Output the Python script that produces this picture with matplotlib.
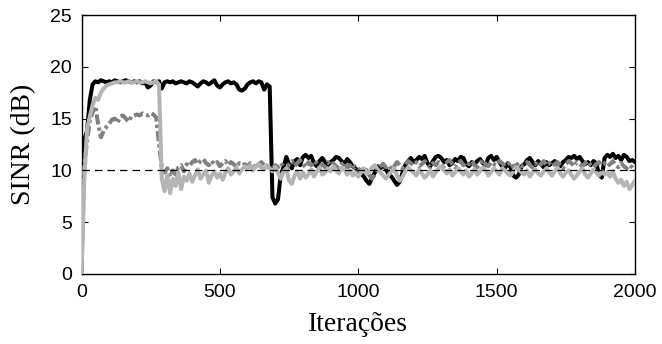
import numpy as np
import matplotlib
matplotlib.use("Agg")
import matplotlib.pyplot as plt

# iteration grid (every 10 iterations)
iteracoes = np.arange(0, 2001, 10)

# SINR (dB)
sinr_preto = [
    0.5, 13.0, 13.8, 16.8, 18.3, 18.6, 18.5, 18.7, 18.6, 18.5,
    18.6, 18.5, 18.7, 18.6, 18.5, 18.6, 18.7, 18.6, 18.5, 18.6,
    18.5, 18.6, 18.4, 18.5, 18.0, 18.2, 18.6, 18.5, 18.6, 17.9,
    18.5, 18.6, 18.5, 18.6, 18.4, 18.5, 18.6, 18.5, 18.4, 18.6,
    18.5, 18.3, 18.1, 18.4, 18.6, 18.5, 18.3, 18.5, 18.7, 18.2,
    18.0, 18.3, 18.5, 18.6, 18.4, 18.5, 18.3, 17.8, 17.7, 17.9,
    18.3, 18.5, 18.6, 18.4, 18.6, 18.5, 17.8, 18.3, 18.1, 7.4,
    6.8, 7.2, 9.6, 10.3, 11.3, 10.6, 10.2, 10.9, 11.1, 10.5,
    11.3, 11.5, 11.2, 11.4, 10.7, 10.4, 10.9, 11.2, 10.8, 10.5,
    10.8, 11.0, 11.3, 11.2, 10.9, 10.6, 11.1, 10.8, 10.4, 10.2,
    9.9, 9.7, 9.4, 9.0, 8.7, 9.3, 9.8, 10.4, 10.2, 10.6,
    10.1, 9.6, 9.4, 9.0, 8.6, 8.9, 9.8, 10.5, 10.9, 11.2,
    10.8, 11.0, 11.3, 11.1, 11.4, 10.7, 10.4, 10.9, 11.3, 11.4,
    11.2, 10.8, 11.0, 10.5, 10.7, 11.1, 10.9, 11.3, 11.2, 10.6,
    10.4, 10.8, 10.6, 10.9, 11.1, 10.7, 10.5, 11.2, 11.4, 11.0,
    11.3, 10.8, 10.4, 10.2, 10.7, 10.3, 9.5, 9.3, 9.6, 10.4,
    10.6, 11.0, 11.2, 10.8, 10.5, 10.9, 10.6, 10.3, 10.8, 10.5,
    10.7, 10.9, 10.6, 10.4, 10.8, 11.0, 11.3, 11.2, 11.4, 11.1,
    11.3, 10.9, 10.6, 10.8, 10.5, 10.9, 10.7, 9.6, 9.3, 11.2,
    11.5, 11.3, 11.6, 11.2, 11.4, 11.0, 11.5, 11.3, 10.9, 11.0,
    10.8,
]

sinr_cinza_escuro = [
    0.0, 10.5, 12.8, 14.8, 15.6, 16.2, 14.5, 13.2, 13.8, 14.2,
    14.5, 14.9, 15.0, 14.6, 15.2, 15.3, 15.0, 14.7, 15.2, 15.3,
    15.4, 15.3, 15.5, 15.4, 15.3, 15.5, 15.4, 15.1, 12.5, 10.3,
    9.8, 10.2, 9.4, 10.0, 9.6, 10.3, 10.5, 9.9, 10.6, 10.4,
    10.8, 11.0, 10.6, 10.9, 11.1, 10.7, 10.5, 10.9, 10.6, 10.8,
    10.4, 10.7, 10.9, 10.5, 10.8, 10.6, 10.3, 10.7, 10.5, 10.6,
    10.4, 10.7, 10.5, 10.2, 10.6, 10.8, 10.5, 10.3, 10.4, 10.2,
    10.5, 10.3, 10.7, 10.4, 10.0, 10.6, 10.9, 10.4, 10.7, 11.0,
    10.6, 10.3, 10.8, 10.5, 10.9, 10.7, 10.4, 10.6, 10.3, 10.8,
    10.5, 10.7, 10.4, 10.2, 10.6, 10.8, 10.3, 10.5, 10.1, 10.4,
    10.2, 9.8, 10.3, 10.0, 9.5, 9.2, 9.6, 10.1, 10.4, 10.6,
    10.3, 10.5, 10.1, 10.4, 10.8, 10.5, 10.2, 10.6, 10.9, 10.7,
    10.5, 10.8, 10.4, 10.6, 10.9, 10.6, 10.3, 10.7, 10.5, 10.8,
    10.6, 10.4, 10.8, 11.0, 10.6, 10.3, 10.7, 10.9, 10.5, 10.8,
    10.6, 10.9, 10.5, 10.3, 10.7, 11.0, 10.6, 10.4, 10.8, 10.6,
    10.5, 10.9, 10.7, 10.4, 10.6, 10.8, 10.3, 10.5, 10.7, 10.4,
    10.6, 10.8, 10.5, 10.3, 10.7, 10.4, 10.6, 10.9, 10.5, 10.7,
    10.4, 10.6, 10.8, 10.5, 10.2, 10.6, 10.9, 10.7, 10.4, 10.8,
    10.6, 10.4, 10.7, 10.9, 10.5, 10.3, 10.6, 10.8, 10.5, 10.7,
    10.4, 10.6, 10.9, 10.5, 10.3, 10.7, 10.4, 10.2, 10.5, 10.3,
    10.0,
]

sinr_cinza_claro = [
    0.0, 9.0, 14.0, 15.2, 16.3, 17.0, 16.8, 17.5, 17.9, 18.2,
    18.3, 18.4, 18.5, 18.5, 18.6, 18.5, 18.5, 18.6, 18.5, 18.5,
    18.6, 18.5, 18.5, 18.6, 18.5, 18.4, 18.5, 18.6, 18.3, 9.2,
    8.0, 9.6, 7.8, 9.2, 8.5, 9.8, 8.2, 9.4, 9.0, 9.7,
    8.9, 9.5, 10.1, 9.2, 9.6, 10.0, 8.8, 9.5, 9.9, 9.3,
    9.7, 9.1, 9.8, 10.2, 9.6, 9.9, 10.3, 9.7, 10.1, 10.4,
    10.2, 10.5, 10.0, 10.4, 10.6, 10.3, 10.1, 10.5, 10.2, 9.9,
    10.3, 9.8, 9.2, 9.9, 10.2, 9.0, 8.7, 9.5, 9.9, 9.2,
    9.8, 9.3, 9.6, 10.1, 9.4, 9.9, 10.3, 9.6, 9.8, 10.2,
    9.9, 10.4, 10.0, 9.7, 10.3, 10.1, 9.6, 10.0, 9.5, 9.8,
    9.4, 9.8, 10.2, 9.7, 9.9, 10.3, 10.5, 10.1, 9.8, 9.5,
    9.2, 9.6, 9.9, 10.2, 9.5, 9.0, 9.4, 9.9, 10.3, 10.0,
    9.8, 9.5, 10.1, 9.7, 9.3, 9.6, 10.0, 9.4, 9.8, 10.2,
    10.4, 10.0, 9.7, 10.1, 9.5, 9.8, 10.2, 9.9, 9.6, 10.0,
    9.4, 9.7, 10.1, 9.6, 9.9, 10.3, 10.0, 9.5, 9.8, 10.2,
    9.9, 9.6, 10.2, 10.0, 9.7, 9.5, 9.9, 10.3, 10.1, 9.8,
    9.6, 10.0, 9.4, 9.8, 10.1, 9.7, 9.5, 9.9, 10.2, 9.8,
    9.5, 9.9, 10.3, 9.7, 9.4, 9.8, 10.0, 9.6, 9.2, 9.5,
    9.9, 10.2, 9.6, 9.3, 9.7, 10.1, 9.8, 9.5, 9.9, 9.6,
    9.8, 9.4, 9.9, 9.2, 8.8, 9.1, 8.5, 8.9, 8.2, 8.6,
    9.0,
]

sinr_alvo = 10  # target SINR (dashed line)

fig = plt.figure(figsize=(6.62, 3.44), dpi=100)
ax = fig.add_axes([81.5 / 662, 70 / 344, 553.5 / 662, 259 / 344])

ax.plot(iteracoes, sinr_preto, color='black', lw=2.9, solid_joinstyle='round', zorder=3)
ax.plot(iteracoes, sinr_cinza_escuro, color='#808080', lw=2.9,
        ls=(0, (2.5, 0.8, 0.8, 0.8)), zorder=4)
ax.plot(iteracoes, sinr_cinza_claro, color='#b4b4b4', lw=2.9, solid_joinstyle='round', zorder=5)
ax.axhline(sinr_alvo, color='black', lw=0.9, ls=(0, (6, 4)), zorder=6)

ax.set_xlim(0, 2000)
ax.set_ylim(0, 25)
ax.set_xticks([0, 500, 1000, 1500, 2000])
ax.set_yticks([0, 5, 10, 15, 20, 25])

tick_font = {'family': 'Liberation Sans', 'size': 14}
ax.set_xticklabels(['0', '500', '1000', '1500', '2000'], fontdict=tick_font)
ax.set_yticklabels(['0', '5', '10', '15', '20', '25'], fontdict=tick_font)
ax.tick_params(direction='in', top=True, right=True, length=4, width=0.8, pad=7)

label_font = {'family': 'Liberation Serif', 'size': 20}
ax.set_xlabel('Iterações', fontdict=label_font, labelpad=8)
ax.set_ylabel('SINR (dB)', fontdict=label_font, labelpad=10)

for s in ax.spines.values():
    s.set_linewidth(1.0)

fig.savefig('out.png', dpi=100)
